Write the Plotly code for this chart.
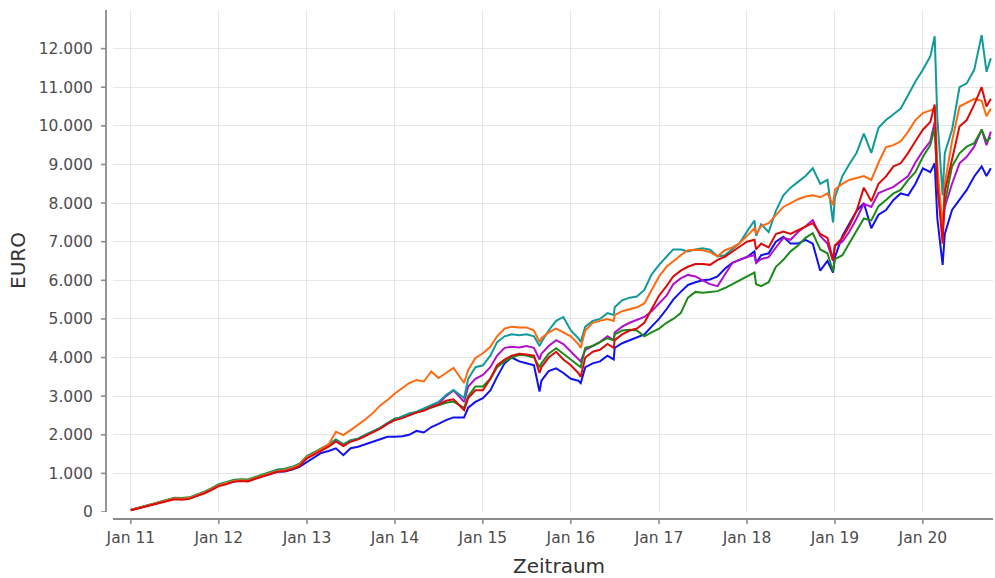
import plotly.graph_objects as go

# ---------------- data ----------------
dates = (
    ["2011-%02d-01" % m for m in range(1, 13)]
    + ["2012-%02d-01" % m for m in range(1, 13)]
    + ["2013-%02d-01" % m for m in range(1, 13)]
    + ["2014-01-01", "2014-02-01", "2014-03-01", "2014-04-01", "2014-05-01", "2014-06-01",
       "2014-07-01", "2014-08-01", "2014-09-01", "2014-10-15", "2014-11-01", "2014-12-01"]
    + ["2015-01-01", "2015-02-01", "2015-03-01", "2015-04-01", "2015-05-01", "2015-06-01",
       "2015-07-01", "2015-08-01", "2015-08-24", "2015-09-01", "2015-10-01", "2015-11-01", "2015-12-01"]
    + ["2016-01-01", "2016-02-01", "2016-02-11", "2016-03-01", "2016-04-01", "2016-05-01", "2016-06-01",
       "2016-06-27", "2016-07-01", "2016-08-01", "2016-09-01", "2016-10-01", "2016-11-01", "2016-12-01"]
    + ["2017-%02d-01" % m for m in range(1, 13)]
    + ["2018-01-01", "2018-02-01", "2018-02-08", "2018-03-01", "2018-04-01", "2018-05-01", "2018-06-01",
       "2018-07-01", "2018-08-01", "2018-09-01", "2018-10-01", "2018-11-01", "2018-12-01", "2018-12-24"]
    + ["2019-%02d-01" % m for m in range(1, 13)]
    + ["2020-01-01", "2020-02-01", "2020-02-19", "2020-03-01", "2020-03-23", "2020-04-01", "2020-05-01",
       "2020-06-01", "2020-07-01", "2020-08-01", "2020-09-01", "2020-09-21", "2020-10-09"]
)

blue = (
    [50, 100, 148, 205, 255, 295, 345, 335, 355, 425, 495, 585]
    + [685, 735, 790, 810, 800, 870, 925, 985, 1040, 1050, 1100, 1170]
    + [1300, 1420, 1530, 1580, 1650, 1470, 1650, 1690, 1760, 1820, 1880, 1950]
    + [1950, 1960, 2000, 2100, 2060, 2200, 2280, 2380, 2450, 2450, 2700, 2850]
    + [2950, 3150, 3500, 3850, 4000, 3900, 3850, 3800, 3120, 3400, 3650, 3720, 3600]
    + [3450, 3400, 3340, 3750, 3850, 3900, 4050, 3950, 4250, 4370, 4450, 4540, 4600, 4800]
    + [5000, 5250, 5500, 5700, 5880, 5950, 6000, 6020, 6100, 6300, 6450, 6530]
    + [6600, 6750, 6450, 6650, 6700, 7000, 7130, 6950, 6950, 7050, 6950, 6250, 6500, 6200]
    + [6600, 7150, 7450, 7800, 8000, 7350, 7700, 7820, 8080, 8250, 8200, 8500]
    + [8900, 8800, 9030, 7600, 6400, 7200, 7820, 8080, 8340, 8690, 8950, 8700, 8900]
)

green = (
    [55, 110, 165, 225, 275, 320, 370, 360, 380, 450, 520, 610]
    + [720, 770, 830, 850, 840, 910, 970, 1030, 1100, 1120, 1170, 1250]
    + [1450, 1550, 1650, 1750, 1880, 1750, 1860, 1900, 2000, 2080, 2180, 2300]
    + [2420, 2450, 2510, 2570, 2620, 2700, 2760, 2830, 2860, 2700, 3000, 3250]
    + [3250, 3450, 3750, 3900, 4000, 4070, 4050, 4000, 3750, 3850, 4100, 4240, 4100]
    + [3950, 3800, 3750, 4250, 4300, 4400, 4500, 4450, 4600, 4700, 4720, 4700, 4550, 4650]
    + [4750, 4900, 5000, 5150, 5550, 5700, 5680, 5700, 5720, 5800, 5900, 6000]
    + [6100, 6200, 5900, 5850, 5950, 6350, 6530, 6750, 6900, 7100, 7220, 6800, 6700, 6230]
    + [6550, 6650, 6950, 7300, 7600, 7550, 7920, 8080, 8250, 8340, 8600, 8800]
    + [9200, 9500, 9950, 8500, 7500, 8000, 8950, 9290, 9460, 9550, 9900, 9600, 9700]
)

purple = (
    [50, 100, 150, 210, 260, 300, 350, 340, 360, 430, 500, 590]
    + [690, 740, 800, 820, 810, 880, 940, 1000, 1070, 1090, 1140, 1220]
    + [1410, 1510, 1610, 1710, 1850, 1730, 1840, 1890, 1980, 2070, 2170, 2290]
    + [2390, 2450, 2520, 2580, 2650, 2750, 2800, 3000, 3150, 2850, 3250, 3450]
    + [3550, 3750, 4050, 4250, 4280, 4260, 4300, 4250, 3950, 4100, 4300, 4450, 4350]
    + [4150, 3950, 3900, 4200, 4300, 4400, 4550, 4450, 4650, 4800, 4900, 4970, 5050, 5200]
    + [5400, 5600, 5900, 6050, 6140, 6100, 6000, 5900, 5850, 6150, 6450, 6530]
    + [6610, 6650, 6450, 6550, 6600, 6850, 7100, 7050, 7250, 7400, 7560, 7150, 6950, 6500]
    + [6900, 7000, 7250, 7600, 7980, 7900, 8260, 8340, 8420, 8560, 8700, 9050]
    + [9350, 9600, 10100, 8400, 7300, 7900, 8500, 9030, 9200, 9460, 9900, 9500, 9850]
)

teal = (
    [50, 105, 155, 215, 265, 305, 355, 345, 365, 435, 505, 595]
    + [700, 750, 810, 830, 820, 890, 950, 1010, 1080, 1100, 1150, 1230]
    + [1430, 1530, 1630, 1730, 1870, 1740, 1850, 1900, 1990, 2080, 2180, 2300]
    + [2400, 2480, 2550, 2600, 2680, 2770, 2850, 3030, 3160, 2950, 3450, 3750]
    + [3800, 4050, 4400, 4550, 4600, 4580, 4600, 4550, 4300, 4400, 4700, 4950, 5050]
    + [4700, 4500, 4400, 4800, 4950, 5000, 5150, 5100, 5300, 5480, 5550, 5580, 5750, 6150]
    + [6400, 6600, 6800, 6800, 6750, 6800, 6830, 6790, 6620, 6650, 6800, 6960]
    + [7260, 7550, 7150, 7450, 7250, 7800, 8200, 8400, 8550, 8700, 8900, 8500, 8600, 7500]
    + [8150, 8700, 9000, 9300, 9800, 9300, 9950, 10150, 10300, 10450, 10800, 11150]
    + [11450, 11800, 12320, 10200, 8200, 9300, 9900, 11000, 11100, 11450, 12350, 11400, 11750]
)

orange = (
    [50, 100, 150, 210, 260, 300, 350, 340, 360, 430, 500, 590]
    + [690, 745, 800, 820, 810, 880, 940, 1000, 1060, 1080, 1140, 1220]
    + [1420, 1520, 1630, 1750, 2080, 1990, 2120, 2250, 2400, 2560, 2760, 2900]
    + [3070, 3210, 3340, 3420, 3380, 3640, 3470, 3600, 3730, 3340, 3680, 3990]
    + [4110, 4280, 4550, 4750, 4800, 4780, 4780, 4700, 4400, 4500, 4650, 4750, 4650]
    + [4550, 4350, 4250, 4700, 4900, 4950, 5000, 4950, 5100, 5200, 5250, 5300, 5400, 5750]
    + [6100, 6350, 6500, 6650, 6780, 6790, 6780, 6730, 6620, 6780, 6850, 6960]
    + [7150, 7350, 7200, 7400, 7480, 7700, 7900, 8000, 8100, 8170, 8200, 8150, 8250, 7950]
    + [8350, 8500, 8600, 8650, 8700, 8600, 9050, 9450, 9500, 9600, 9850, 10150]
    + [10330, 10400, 10450, 9000, 7300, 8500, 9600, 10500, 10600, 10700, 10650, 10250, 10450]
)

red = (
    [45, 95, 140, 195, 245, 285, 330, 320, 340, 410, 480, 570]
    + [670, 720, 780, 800, 790, 860, 920, 980, 1040, 1060, 1110, 1190]
    + [1390, 1490, 1590, 1690, 1830, 1710, 1820, 1880, 1970, 2060, 2160, 2280]
    + [2380, 2430, 2500, 2580, 2620, 2720, 2780, 2880, 2920, 2640, 2950, 3150]
    + [3150, 3450, 3800, 3950, 4050, 4100, 4080, 4050, 3600, 3750, 4000, 4150, 3950]
    + [3800, 3600, 3500, 4000, 4150, 4200, 4350, 4250, 4450, 4600, 4700, 4750, 4900, 5250]
    + [5600, 5850, 6100, 6250, 6350, 6420, 6420, 6400, 6530, 6610, 6750, 6870]
    + [7000, 7050, 6800, 6950, 6850, 7200, 7260, 7200, 7300, 7400, 7480, 7200, 7100, 6530]
    + [6900, 7100, 7400, 7800, 8400, 8050, 8500, 8690, 8950, 9030, 9300, 9600]
    + [9900, 10100, 10550, 8500, 6950, 8300, 9100, 9980, 10150, 10550, 11000, 10500, 10700]
)

series = [
    ("blue", blue, "#1010F0"),
    ("purple", purple, "#B010C8"),
    ("green", green, "#1B8A1B"),
    ("teal", teal, "#129A9A"),
    ("orange", orange, "#FF6A10"),
    ("red", red, "#DD0A0A"),
]

y_ticks = list(range(0, 13000, 1000))
y_tick_labels = ["0", "1.000", "2.000", "3.000", "4.000", "5.000", "6.000",
                 "7.000", "8.000", "9.000", "10.000", "11.000", "12.000"]
x_ticks = ["%d-01-01" % y for y in range(2011, 2021)]
x_tick_labels = ["Jan %02d" % (y % 100) for y in range(2011, 2021)]

# ---------------- figure ----------------
fig = go.Figure()
for name, vals, col in series:
    fig.add_trace(go.Scatter(x=dates, y=vals, mode="lines", name=name,
                             line=dict(color=col, width=2.0), showlegend=False))

FONT = "DejaVu Sans"
TICKCOL = "#4D4D4D"
AXCOL = "#8C8C8C"
W, H = 995, 578
ML, MR, MT, MB = 113, 2, 10, 66
PW, PH = W - ML - MR, H - MT - MB
off_x = -7 / PW   # y-axis line offset (paper)
off_y = -7 / PH   # x-axis line offset (paper)

fig.update_layout(
    width=W, height=H,
    margin=dict(l=ML, r=MR, t=MT, b=MB, pad=0),
    paper_bgcolor="white", plot_bgcolor="white",
    font=dict(family=FONT, color=TICKCOL),
    xaxis=dict(
        type="date", range=["2010-10-19", "2020-10-18"],
        tickmode="array", tickvals=x_ticks, ticktext=x_tick_labels,
        showgrid=True, gridcolor="#E6E6E6", gridwidth=1,
        zeroline=False, showline=False,
        ticks="outside", ticklen=11, tickcolor="rgba(0,0,0,0)",
        tickfont=dict(family=FONT, size=15.5, color=TICKCOL),
    ),
    yaxis=dict(
        range=[0, 13000],
        tickmode="array", tickvals=y_ticks, ticktext=y_tick_labels,
        showgrid=True, gridcolor="#E6E6E6", gridwidth=1,
        zeroline=False, showline=False,
        ticks="outside", ticklen=16, tickcolor="rgba(0,0,0,0)",
        tickfont=dict(family=FONT, size=15.5, color=TICKCOL),
    ),
)

shapes = []
# offset axis lines
shapes.append(dict(type="line", xref="paper", yref="paper", x0=off_x, x1=off_x, y0=0, y1=1,
                   line=dict(color=AXCOL, width=1.8)))
shapes.append(dict(type="line", xref="paper", yref="paper", x0=0, x1=1, y0=off_y, y1=off_y,
                   line=dict(color=AXCOL, width=1.8)))
# tick marks
for v in y_ticks:
    shapes.append(dict(type="line", xref="paper", yref="y", x0=off_x - 5 / PW, x1=off_x, y0=v, y1=v,
                       line=dict(color=AXCOL, width=1.6)))
for d in x_ticks:
    shapes.append(dict(type="line", xref="x", yref="paper", x0=d, x1=d, y0=off_y, y1=off_y - 5 / PH,
                       line=dict(color=AXCOL, width=1.6)))
fig.update_layout(shapes=shapes)

fig.add_annotation(text="Zeitraum", xref="paper", yref="paper",
                   x=(559 - ML) / PW, y=(PH + MT - 566) / PH, showarrow=False,
                   font=dict(family=FONT, size=20, color="#333333"),
                   xanchor="center", yanchor="middle")
fig.add_annotation(text="EURO", xref="paper", yref="paper",
                   x=(18 - ML) / PW, y=0.5, showarrow=False, textangle=-90,
                   font=dict(family=FONT, size=20, color="#333333"),
                   xanchor="center", yanchor="middle")

fig.write_html(
    "out.html",
    config={"displayModeBar": False},
    post_script="document.body.style.margin='0px';document.body.style.padding='0px';"
                "document.body.style.overflow='hidden';",
)
